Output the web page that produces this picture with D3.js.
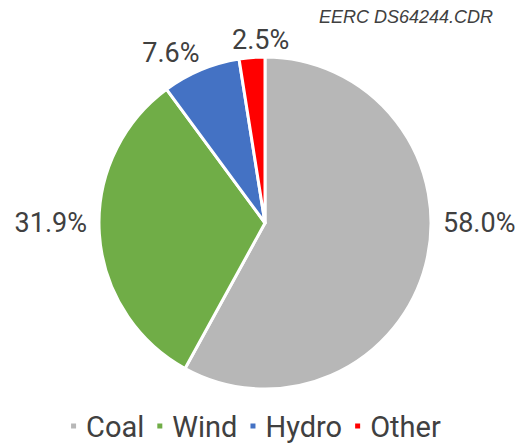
<!DOCTYPE html>
<html>
<head>
<meta charset="utf-8">
<script src="https://cdn.jsdelivr.net/npm/d3@7"></script>
<style>
  html, body { margin: 0; padding: 0; background: #fff; }
  svg { display: block; }
</style>
</head>
<body>
<svg id="chart" width="519" height="444"></svg>
<script>
// Generation mix shares (percent)
const categories = ["Coal", "Wind", "Hydro", "Other"];
const shares = [58.0, 31.9, 7.6, 2.5];
const colors = ["#b7b7b7", "#70ad47", "#4472c4", "#ff0000"];
const valueLabels = ["58.0%", "31.9%", "7.6%", "2.5%"];

const svg = d3.select("#chart");
const W = 519, H = 444;
const cx = 265, cy = 223, R = 166;
const textColor = "#404040";

svg.append("text")
  .attr("x", 493).attr("y", 23)
  .attr("text-anchor", "end")
  .attr("font-family", "Liberation Sans, Arial, sans-serif")
  .attr("font-style", "italic")
  .attr("font-size", 18)
  .attr("fill", textColor)
  .text("EERC DS64244.CDR");

const data = categories.map((c, i) => ({ name: c, value: shares[i], color: colors[i], label: valueLabels[i] }));

const pie = d3.pie().value(d => d.value).sort(null);
const arc = d3.arc().innerRadius(0).outerRadius(R);
const arcs = pie(data);

const g = svg.append("g").attr("transform", `translate(${cx},${cy})`);

g.selectAll("path.slice")
  .data(arcs)
  .join("path")
  .attr("class", "slice")
  .attr("d", arc)
  .attr("fill", d => d.data.color)
  .attr("stroke", "#fff")
  .attr("stroke-width", 3)
  .attr("stroke-linejoin", "round");

// Value labels: wide side slices get a label level with the pie centre,
// narrow top slices get one just beyond the rim along the mid-angle.
const labelH = 28;
function labelPlacement(d) {
  const a = (d.startAngle + d.endAngle) / 2;
  const s = Math.sin(a), c = Math.cos(a);
  if (Math.abs(s) > 0.9) {
    return { x: Math.sign(s) * (R + 12), y: 0, anchor: s > 0 ? "start" : "end" };
  }
  const r = R + 4;
  const anchor = Math.abs(s) < 0.15 ? "middle" : (s > 0 ? "start" : "end");
  const shiftX = anchor === "middle" ? 9 : 0;
  return { x: s * r + shiftX, y: -c * r - c * labelH / 2, anchor };
}

g.selectAll("text.val")
  .data(arcs)
  .join("text")
  .attr("class", "val")
  .attr("font-family", "Roboto, sans-serif")
  .attr("font-size", 27)
  .attr("fill", textColor)
  .attr("dominant-baseline", "central")
  .each(function(d) {
    const p = labelPlacement(d);
    d3.select(this)
      .attr("text-anchor", p.anchor)
      .attr("x", p.x)
      .attr("y", p.y);
  })
  .text(d => d.data.label);

// Legend
const legend = svg.append("g").attr("class", "legend");
const legendBaseline = 437;
const fontSize = 29;
const mark = 5;
const items = legend.selectAll("g.item").data(data).join("g").attr("class", "item");
items.append("rect")
  .attr("width", mark).attr("height", mark)
  .attr("y", legendBaseline - 11 - mark / 2)
  .attr("fill", d => d.color);
items.append("text")
  .attr("x", mark + 10)
  .attr("y", legendBaseline)
  .attr("font-family", "Roboto, sans-serif")
  .attr("font-size", fontSize)
  .attr("fill", textColor)
  .text(d => d.name);

let x = 0;
const gap = 13;
items.each(function() {
  d3.select(this).attr("transform", `translate(${x},0)`);
  x += this.getBBox().width + gap;
});
const totalW = x - gap;
legend.attr("transform", `translate(${256 - totalW / 2},0)`);
</script>
</body>
</html>
